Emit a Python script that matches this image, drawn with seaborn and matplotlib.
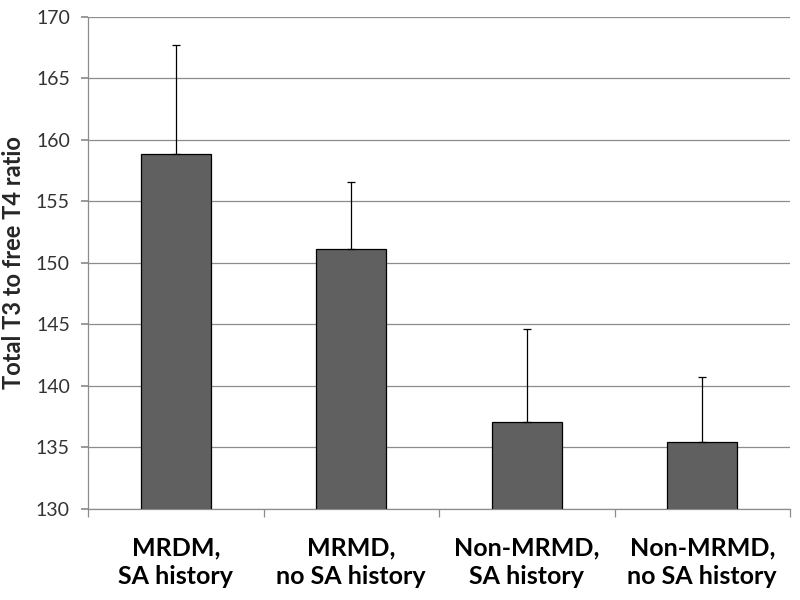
import numpy as np
import pandas as pd
import seaborn as sns
import matplotlib.pyplot as plt
from matplotlib.ticker import FixedLocator

groups = ['MRDM,\nSA history', 'MRMD,\nno SA history', 'Non-MRMD,\nSA history', 'Non-MRMD,\nno SA history']
means = [158.85, 151.15, 137.05, 135.45]
errors = [8.85, 5.45, 7.6, 5.25]

df = pd.DataFrame({'group': groups, 'ratio': means})

sns.set_theme(style='white')
plt.rcParams['font.family'] = ['Lato', 'DejaVu Sans']

fig = plt.figure(figsize=(8, 6), dpi=100)
ax = fig.add_axes([0.11, 0.152, 0.8775, 0.82])

sns.barplot(data=df, x='group', y='ratio', color='#606060', saturation=1,
            width=0.4, edgecolor='black', linewidth=0.9, errorbar=None, ax=ax, zorder=3)
ax.errorbar(np.arange(len(groups)), means, yerr=[np.zeros(len(errors)), errors],
            fmt='none', ecolor='black', elinewidth=0.9, capsize=3, capthick=0.9, zorder=4)

ax.set_ylim(130, 170)
ax.set_xlim(-0.5, len(groups) - 0.5)
ax.set_yticks(np.arange(130, 171, 5))
ax.yaxis.grid(True, color='#8c8c8c', linewidth=0.9, zorder=0)
ax.set_axisbelow(True)

for s in ['top', 'right']:
    ax.spines[s].set_visible(False)
for s in ['left', 'bottom']:
    ax.spines[s].set_color('#8c8c8c')
    ax.spines[s].set_linewidth(0.9)

ax.tick_params(axis='y', which='major', left=True, length=5, color='#8c8c8c',
               labelsize=14, labelcolor='#333333', pad=8)
ax.tick_params(axis='x', which='major', bottom=False, labelsize=18, pad=14)
ax.xaxis.set_minor_locator(FixedLocator(np.arange(-0.5, len(groups), 1.0)))
ax.tick_params(axis='x', which='minor', bottom=True, length=6, color='#8c8c8c', width=0.9)
for lbl in ax.get_xticklabels():
    lbl.set_fontweight('bold')
    lbl.set_color('black')
    lbl.set_linespacing(1.3)

ax.set_xlabel('')
ax.set_ylabel('Total T3 to free T4 ratio', fontsize=17, fontweight='bold', labelpad=8)

plt.savefig('out.png', dpi=100)
